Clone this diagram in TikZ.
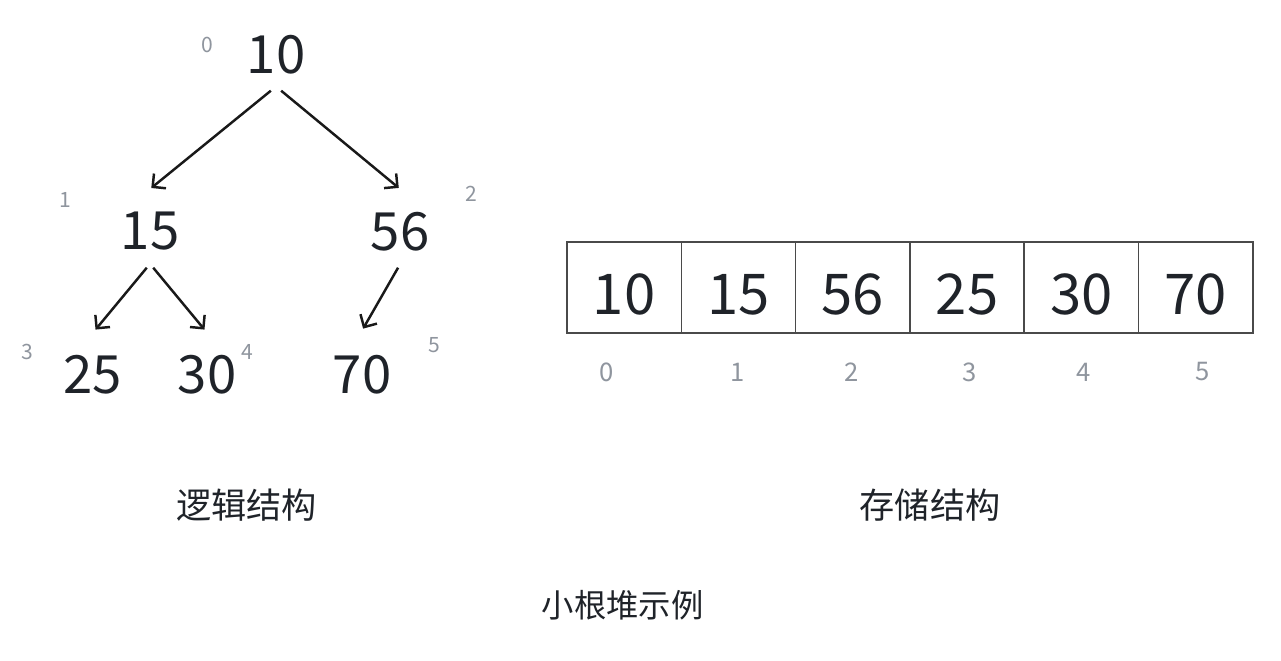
\documentclass[tikz,border=0pt]{standalone}
\usepackage{fontspec}
\setmainfont{Noto Sans CJK SC}
\usepackage{xcolor}
\usetikzlibrary{arrows.meta,positioning}
\definecolor{ink}{HTML}{1F2329}
\definecolor{idxgray}{HTML}{8F959E}
\definecolor{boxline}{HTML}{4A4A4A}

\begin{document}
\begin{tikzpicture}[
  key/.style={inner sep=0pt, minimum height=7.2mm, text depth=0pt, font=\fontsize{15}{18}\selectfont, text=ink},
  idx/.style={inner sep=0pt, font=\fontsize{6}{7}\selectfont, text=idxgray},
  aidx/.style={inner sep=0pt, font=\fontsize{7.3}{9}\selectfont, text=idxgray},
  cell/.style={draw=boxline, line width=0.45pt, inner sep=0pt, outer sep=0pt, minimum width=11.43mm, minimum height=9.1mm, text height=5.3mm, text depth=0pt, font=\fontsize{16}{19}\selectfont, text=ink},
  lab/.style={inner sep=0pt, text=ink},
  arr/.style={-{Straight Barb[length=0.95mm, width=1.9mm]}, line width=0.7pt, shorten >=1mm, draw=black!90}
]
\useasboundingbox (0,0) rectangle (12.81,-6.60);
% logical view: the heap as a tree
\node[key] (n0) at (2.76,-0.54) {10};
\node[key] (n1) at (1.50,-2.31) {15};
\node[key] (n2) at (4.00,-2.31) {56};
\node[key] (n3) at (0.93,-3.74) {25};
\node[key] (n4) at (2.07,-3.74) {30};
\node[key] (n5) at (3.62,-3.74) {70};
\node[idx] (i0) at (2.07,-0.445) {0};
\node[idx] (i1) at (0.655,-2.00) {1};
\node[idx] (i2) at (4.71,-1.94) {2};
\node[idx] (i3) at (0.275,-3.52) {3};
\node[idx] (i4) at (2.47,-3.52) {4};
\node[idx] (i5) at (4.34,-3.45) {5};
\draw[arr] (n0.-98) -- (n1.100);
\draw[arr] (n0.-82) -- (n2.80);
\draw[arr] (n1.-95) -- (n3.96);
\draw[arr] (n1.-85) -- (n4.84);
\draw[arr] (n2.-93) -- (n5.96);
% storage view: the same keys in an array
\node[cell] (c0) at (6.242,-2.875) {10};
\node[cell, right=0pt of c0] (c1) {15};
\node[cell, right=0pt of c1] (c2) {56};
\node[cell, right=0pt of c2] (c3) {25};
\node[cell, right=0pt of c3] (c4) {30};
\node[cell, right=0pt of c4] (c5) {70};
\node[aidx] (a0) at (6.07,-3.72) {0};
\node[aidx] (a1) at (7.375,-3.72) {1};
\node[aidx] (a2) at (8.52,-3.72) {2};
\node[aidx] (a3) at (9.70,-3.72) {3};
\node[aidx] (a4) at (10.84,-3.72) {4};
\node[aidx] (a5) at (12.03,-3.72) {5};
% captions
\node[lab, font=\fontsize{10}{12}\selectfont] (logic) at (2.465,-5.05) {逻辑结构};
\node[lab, font=\fontsize{10}{12}\selectfont] (store) at (9.30,-5.05) {存储结构};
\node[lab, font=\fontsize{9.2}{11}\selectfont] (title) at (6.225,-6.05) {小根堆示例};
\end{tikzpicture}
\end{document}
